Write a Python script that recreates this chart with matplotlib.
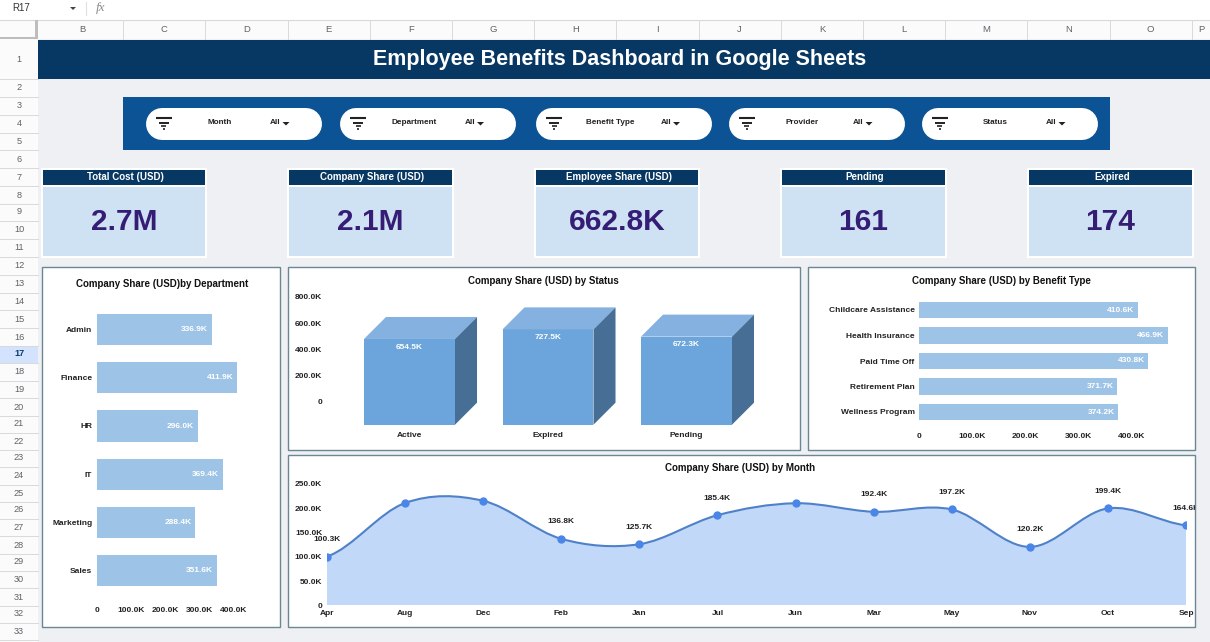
#!/usr/bin/env python3
"""Employee benefits dashboard, drawn as one figure. A full-size axes in pixel
coordinates carries the sheet chrome and cards, the four charts sit on top."""
import matplotlib
matplotlib.use("Agg")
import matplotlib.pyplot as plt  # noqa: E402
from matplotlib.patches import PathPatch, Rectangle  # noqa: E402
from matplotlib.path import Path  # noqa: E402
from matplotlib.transforms import ScaledTranslation  # noqa: E402

plt.rcParams["font.family"] = ["Liberation Sans", "DejaVu Sans"]

W, H = 1210, 642

TITLE = "Employee Benefits Dashboard in Google Sheets"
COLUMNS = ["B", "C", "D", "E", "F", "G", "H", "I", "J", "K", "L", "M", "N", "O", "P"]
FILTERS = ["Month", "Department", "Benefit Type", "Provider", "Status"]
KPI_NAMES = ["Total Cost (USD)", "Company Share (USD)", "Employee Share (USD)", "Pending", "Expired"]
KPI_VALUES = ["2.7M", "2.1M", "662.8K", "161", "174"]

DEPARTMENTS = ["Admin", "Finance", "HR", "IT", "Marketing", "Sales"]
DEPARTMENT_SHARE = [336.9, 411.9, 296.0, 369.4, 288.4, 351.6]

STATUSES = ["Active", "Expired", "Pending"]
STATUS_SHARE = [654.5, 727.5, 672.3]

BENEFITS = ["Childcare Assistance", "Health Insurance", "Paid Time Off", "Retirement Plan", "Wellness Program"]
BENEFIT_SHARE = [410.6, 466.9, 430.8, 371.7, 374.2]

MONTHS = ["Apr", "Aug", "Dec", "Feb", "Jan", "Jul", "Jun", "Mar", "May", "Nov", "Oct", "Sep"]
MONTH_SHARE = [100.3, 210.5, 215.0, 136.8, 125.7, 185.4, 210.0, 192.4, 197.2, 120.2, 199.4, 164.6]
MONTH_UNLABELLED = ["Aug", "Dec", "Jun"]

BG = "#eef0f3"
NAVY = "#073763"
BAND = "#0b5394"
CARD = "#cfe2f3"
VALUE = "#351c75"
BORDER = "#6b8794"
BAR = "#9dc3e6"
TEXT = "#222222"
GRID = "#d9d9d9"
HEAD = "#5f6368"
SMALL = 6.0


def k_fmt(v):
    return "0" if v == 0 else f"{v:.1f}K"


def rect(ax, x0, y0, x1, y1, color, **kw):
    ax.add_patch(Rectangle((x0, y0), x1 - x0, y1 - y0, facecolor=color, linewidth=0, **kw))


def panel_axes(fig, left, top, right, bottom):
    ax = fig.add_axes([left / W, 1 - bottom / H, (right - left) / W, (bottom - top) / H])
    ax.patch.set_alpha(0)
    for s in ax.spines.values():
        s.set_visible(False)
    ax.tick_params(length=0, labelsize=SMALL, labelcolor=TEXT)
    return ax


def bold_ticks(ax):
    for lab in ax.get_xticklabels() + ax.get_yticklabels():
        lab.set_fontweight("bold")


def draw_sheet(bg):
    rect(bg, 0, 0, W, H, BG)
    # toolbar and formula bar
    rect(bg, 0, 0, W, 20, "white")
    bg.text(12, 8, "R17", fontsize=7, color="#333333", va="center")
    bg.fill([70, 76, 73], [7, 7, 10], color="#444444", lw=0)
    bg.plot([86, 86], [2, 15], color="#e0e0e0", lw=0.8)
    bg.text(101, 8, "fx", fontsize=9.5, color="#8a8a8a", va="center", ha="center",
            family="Liberation Serif", style="italic")
    # column header row
    rect(bg, 0, 20, W, 39, "#fbfbfb")
    bg.plot([0, W], [19.5, 19.5], color=GRID, lw=0.8)
    edge = 41
    for c in COLUMNS:
        right = edge + 82.2 if c != "P" else W
        bg.plot([right, right], [20, 39], color=GRID, lw=0.7)
        bg.text((edge + right) / 2, 29, c, fontsize=6.8, color=HEAD, ha="center", va="center")
        edge = right
    rect(bg, 0, 36.5, 37, 39, "#bdbdbd", zorder=3)
    rect(bg, 35, 20, 38, 39, "#bdbdbd", zorder=3)
    # row header column
    rect(bg, 0, 39, 37.5, H, "#fbfbfb")
    row_y = [59, 88, 106, 124, 141, 159, 177, 195, 212, 230, 248, 266, 284, 301, 319, 337, 354,
             372, 389, 407, 424, 441, 458, 476, 493, 510, 527, 545, 562, 579, 597, 614, 631]
    rect(bg, 0, 345.5, 37.5, 363, "#d3e3fd")
    for i, y in enumerate(row_y):
        sel = i == 16
        bg.text(19, y, str(i + 1), fontsize=6.6, ha="center", va="center",
                color="#0b3a6e" if sel else HEAD, fontweight="bold" if sel else "normal")
        low = y + 8.7 if i else 79
        bg.plot([0, 37.5], [low, low], color=GRID, lw=0.7)
    # title band
    rect(bg, 38, 40, W, 79, NAVY, zorder=3)
    bg.text(620, 60, TITLE, fontsize=15.5, fontweight="bold", color="white", ha="center", va="center", zorder=4)


def draw_filters(bg):
    rect(bg, 123, 97, 1110, 150, BAND)
    for name, left in zip(FILTERS, [145.5, 340, 536, 728.5, 921.5]):
        # thick line with round caps gives a true pill, 32 px tall
        bg.plot([left + 16, left + 160], [124, 124], color="white", lw=32 * 0.72, solid_capstyle="round")
        cx = left + 18
        bg.plot([cx - 8, cx + 8], [118, 118], color="#222222", lw=1.5, solid_capstyle="butt")
        bg.plot([cx - 5, cx + 5], [122.5, 122.5], color="#222222", lw=1.4, solid_capstyle="butt")
        bg.plot([cx - 2.5, cx + 2.5], [126, 126], color="#222222", lw=1.2, solid_capstyle="butt")
        bg.plot([cx - 1, cx + 1], [129, 129], color="#222222", lw=1.2, solid_capstyle="butt")
        bg.text(left + 74, 122.3, name, fontsize=5.9, fontweight="bold", color=TEXT, ha="center", va="center")
        bg.text(left + 130, 122.3, "All", fontsize=5.9, fontweight="bold", color=TEXT, ha="center", va="center")
        bg.fill([left + 137, left + 144, left + 140.5], [122, 122, 125.5], color="#222222", lw=0, zorder=3)


def draw_kpis(bg):
    for name, val, left in zip(KPI_NAMES, KPI_VALUES, [42.5, 289, 535.5, 782, 1029]):
        right = left + 162.5
        rect(bg, left - 2, 167.5, right + 2, 258, "white")
        rect(bg, left, 169.5, right, 185, NAVY)
        rect(bg, left, 186.5, right, 256, CARD)
        bg.text((left + right) / 2 + 1.8, 177.3, name, fontsize=7.0, fontweight="bold", color="white",
                ha="center", va="center")
        bg.text((left + right) / 2, 222, val, fontsize=21.5, fontweight="bold", color=VALUE,
                ha="center", va="center")


def draw_panels(bg):
    boxes = {}
    for key, (x0, y0, x1, y1) in {"dept": (42, 267, 279.5, 627), "status": (288, 267, 800, 450),
                                  "benefit": (808, 267, 1195, 450), "month": (288, 455, 1195, 627)}.items():
        boxes[key] = Rectangle((x0, y0), x1 - x0, y1 - y0, facecolor="white", edgecolor=BORDER, linewidth=1.0)
        bg.add_patch(boxes[key])
    titles = [("Company Share (USD)by Department", 162, 284), ("Company Share (USD) by Status", 543.5, 281),
              ("Company Share (USD) by Benefit Type", 1001, 281), ("Company Share (USD) by Month", 740, 468)]
    for t, x, y in titles:
        bg.text(x, y, t, fontsize=7.05, fontweight="bold", color="#111111", ha="center", va="center")
    return boxes


def hbars(fig, box, names, vals, xmax, ticks, pad_x):
    ax = panel_axes(fig, *box)
    ys = list(range(len(names)))
    ax.barh(ys, vals, height=0.645, color=BAR)
    ax.set_ylim(len(names) - 0.5, -0.5)
    ax.set_xlim(0, xmax)
    ax.set_yticks(ys, names)
    ax.set_xticks(ticks, [k_fmt(t) for t in ticks])
    ax.tick_params(axis="x", pad=pad_x)
    ax.tick_params(axis="y", pad=3.2)
    bold_ticks(ax)
    for y, v in zip(ys, vals):
        ax.annotate(f"{v:.1f}K", (v, y), xytext=(-2.5, 0), textcoords="offset points", ha="right",
                    va="center", color="white", fontsize=SMALL, fontweight="bold")
    return ax


def status_chart(fig):
    # 0 sits on the front face base, the axis labels float above it as in the 3D original
    ax = panel_axes(fig, 326, 293.7, 770, 424.7)
    xs = list(range(len(STATUSES)))
    ax.set_xlim(-0.603, 2.603)
    ax.set_ylim(0, 1000)
    width, dx, dy = 0.657, 0.159, 168
    for x, v in zip(xs, STATUS_SHARE):
        l, r = x - width / 2, x + width / 2
        ax.fill([l, r, r, l], [0, 0, v, v], color="#6ca5db", lw=0)
        ax.fill([l, r, r + dx, l + dx], [v, v, v + dy, v + dy], color="#85b1e0", lw=0)
        ax.fill([r, r + dx, r + dx, r], [0, dy, v + dy, v], color="#476f96", lw=0)
        ax.annotate(f"{v:.1f}K", (x, v), xytext=(0, -5.8), textcoords="offset points", ha="center",
                    va="center", color="white", fontsize=SMALL, fontweight="bold")
    ticks = [0, 200, 400, 600, 800]
    ax.set_xticks(xs, STATUSES)
    ax.set_yticks(ticks, [k_fmt(t) for t in ticks])
    ax.tick_params(axis="x", pad=5)
    ax.tick_params(axis="y", pad=2.6)
    bold_ticks(ax)
    shift = ScaledTranslation(0, 23 / 100, fig.dpi_scale_trans)
    for lab in ax.get_yticklabels():
        lab.set_transform(lab.get_transform() + shift)


def month_chart(fig, box):
    ax = panel_axes(fig, 327, 483.8, 1186, 605.3)
    xs = list(range(len(MONTHS)))
    ax.set_xlim(0, len(MONTHS) - 1)
    ax.set_ylim(0, 250)
    # smooth line: cubic segments through the data points
    verts = [(xs[0], MONTH_SHARE[0])]
    codes = [Path.MOVETO]
    n = len(xs)
    for i in range(n - 1):
        m0 = (MONTH_SHARE[i + 1] - MONTH_SHARE[max(i - 1, 0)]) / 2
        m1 = (MONTH_SHARE[min(i + 2, n - 1)] - MONTH_SHARE[i]) / 2
        verts += [(i + 1 / 3, MONTH_SHARE[i] + m0 / 3), (i + 2 / 3, MONTH_SHARE[i + 1] - m1 / 3),
                  (i + 1, MONTH_SHARE[i + 1])]
        codes += [Path.CURVE4] * 3
    area = Path(verts + [(xs[-1], 0), (xs[0], 0), (xs[0], MONTH_SHARE[0])],
                codes + [Path.LINETO, Path.LINETO, Path.LINETO])
    ax.add_patch(PathPatch(area, facecolor="#c2d8f8", linewidth=0))
    ax.add_patch(PathPatch(Path(verts, codes), facecolor="none", edgecolor="#4f81c9", linewidth=1.5))
    ax.plot(xs, MONTH_SHARE, ls="none", marker="o", ms=5, color="#4a86e8")
    ticks = [0, 50, 100, 150, 200, 250]
    ax.set_xticks(xs, MONTHS)
    ax.set_yticks(ticks, [k_fmt(t) for t in ticks])
    ax.tick_params(axis="x", pad=3.5)
    ax.tick_params(axis="y", pad=3.4)
    bold_ticks(ax)
    for x, m, v in zip(xs, MONTHS, MONTH_SHARE):
        if m in MONTH_UNLABELLED:
            continue
        t = ax.annotate(f"{v:.1f}K", (x, v), xytext=(0, 12.3), textcoords="offset points", ha="center",
                        va="center", color=TEXT, fontsize=SMALL, fontweight="bold",
                        annotation_clip=False)
        t.set_clip_on(True)
        t.set_clip_path(box)


def main():
    fig = plt.figure(figsize=(W / 100, H / 100), dpi=100)
    bg = fig.add_axes([0, 0, 1, 1])
    bg.set_xlim(0, W)
    bg.set_ylim(H, 0)
    bg.axis("off")

    draw_sheet(bg)
    draw_filters(bg)
    draw_kpis(bg)
    boxes = draw_panels(bg)

    hbars(fig, (96.7, 305.5, 240, 594.7), DEPARTMENTS, DEPARTMENT_SHARE, 420, [0, 100, 200, 300, 400], 8.6)
    status_chart(fig)
    hbars(fig, (919, 297.25, 1174.6, 424.75), BENEFITS, BENEFIT_SHARE, 480, [0, 100, 200, 300, 400], 6)
    month_chart(fig, boxes["month"])

    fig.savefig("out.png", dpi=100)
    plt.close(fig)


if __name__ == "__main__":
    main()
